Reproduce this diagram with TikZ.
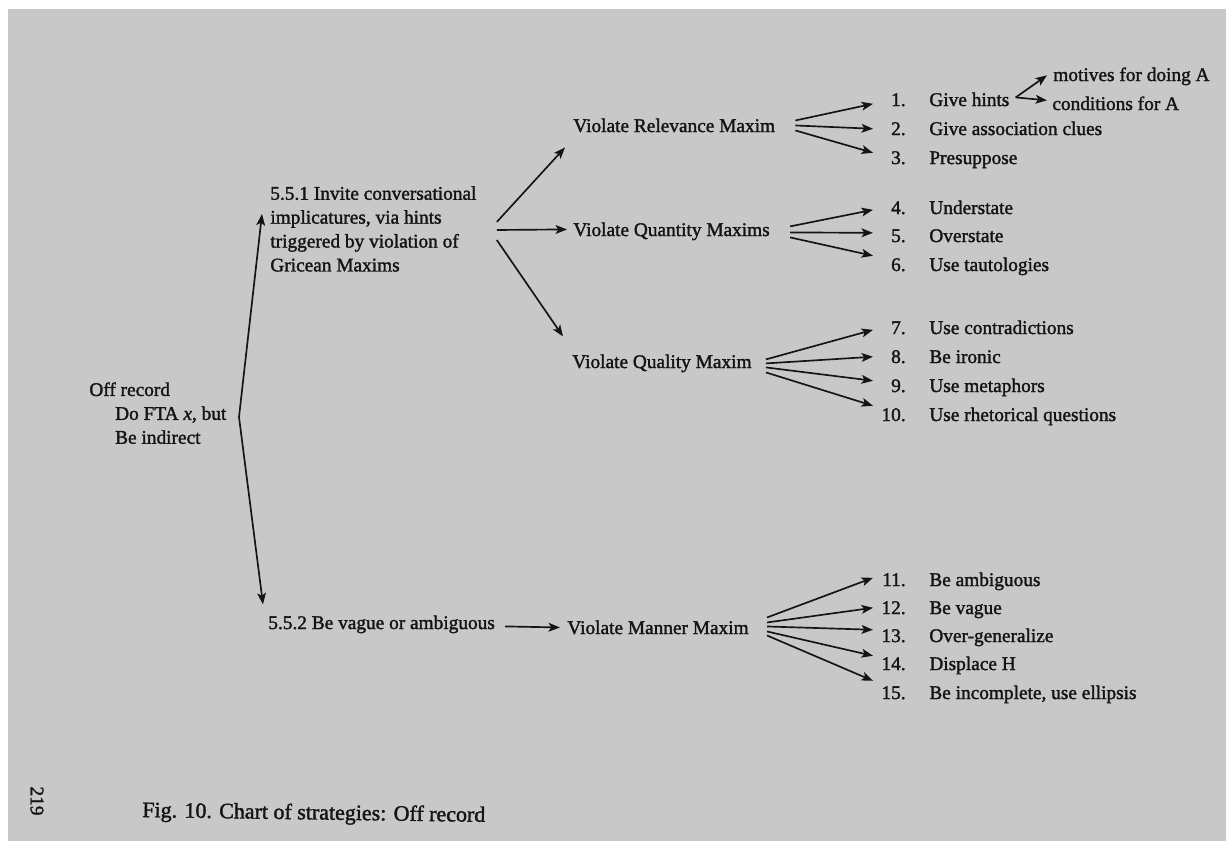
\documentclass[tikz,border=0pt]{standalone}
\usepackage{fontspec}
\setmainfont{Liberation Serif}
\newfontfamily\inkfont[FakeBold=1.6]{Liberation Serif}
\usetikzlibrary{arrows.meta}
\definecolor{paper}{RGB}{200,200,200}
\definecolor{ink}{RGB}{20,20,20}
\begin{document}
\begin{tikzpicture}[x=0.02cm,y=-0.02cm,
  lbl/.style={inner sep=0pt, anchor=mid west, text=ink, font=\fontsize{11}{13.6}\selectfont\inkfont},
  num/.style={inner sep=0pt, anchor=mid east, text=ink, font=\fontsize{11}{13.6}\selectfont\inkfont},
  arr/.style={draw=ink, line width=0.95pt, -{Stealth[length=6.5pt,width=5pt,inset=1.5pt]}},
]
\useasboundingbox (0,0) rectangle (1226,841);
\fill[white] (0,0) rectangle (1226,841);
\fill[paper] (8,9) rectangle (1226,841);

% root of the chart
\node[lbl, anchor=north west, align=left] (off) at (89,382)
  {Off record\\\hspace*{14.7pt}Do FTA \textit{x}, but\\\hspace*{14.7pt}Be indirect};
\coordinate (fork) at (239,417);

% the two super-strategies
\node[lbl, anchor=north west, align=left] (s551) at (270,186)
  {5.5.1 Invite conversational\\implicatures, via hints\\triggered by violation of\\Gricean Maxims};
\node[lbl] (s552) at (268,625) {5.5.2 Be vague or ambiguous};

\draw[arr] (fork) -- ([shift={(-8,28)}]s551.north west);
\draw[arr] (fork) -- ([shift={(-5,-20)}]s552.west);

% maxims
\node[lbl] (rel) at (573,128) {Violate Relevance Maxim};
\node[lbl] (qnt) at (573,232) {Violate Quantity Maxims};
\node[lbl] (qlt) at (572,364) {Violate Quality Maxim};
\node[lbl] (man) at (567,630) {Violate Manner Maxim};

\draw[arr] ([shift={(20,36)}]s551.north east) -- ([shift={(-8,22)}]rel.west);
\draw[arr] ([shift={(20,44)}]s551.north east) -- ([shift={(-6,-2)}]qnt.west);
\draw[arr] ([shift={(20,54)}]s551.north east) -- ([shift={(-9,-27)}]qlt.west);
\draw[arr] ([shift={(10,2)}]s552.east) -- ([xshift=-7*0.02cm]man.west);

% numbered strategies
\foreach \k/\y/\t in {1/102/{Give hints}, 2/131/{Give association clues}, 3/160/{Presuppose},
  4/210/{Understate}, 5/238/{Overstate}, 6/267/{Use tautologies},
  7/330/{Use contradictions}, 8/359/{Be ironic}, 9/388/{Use metaphors}, 10/417/{Use rhetorical questions},
  11/582/{Be ambiguous}, 12/610/{Be vague}, 13/638/{Over-generalize}, 14/666/{Displace H},
  15/695/{Be incomplete, use ellipsis}}{
  \node[num] (n\k) at (906,\y) {\k.};
  \node[lbl] (t\k) at (929,\y) {\t};
}

% fans of arrows from each maxim
\foreach \k/\sy/\dy in {1/-5/4, 2/0/0, 3/5/-5}
  \draw[arr] ([shift={(20,\sy)}]rel.east) -- ([shift={(-33,\dy)}]n\k.east);
\foreach \k/\sy/\dy in {4/-5/2, 5/1/-3, 6/6/-9}
  \draw[arr] ([shift={(20,\sy)}]qnt.east) -- ([shift={(-33,\dy)}]n\k.east);
\foreach \k/\sy/\dy in {7/-4/2, 8/0/0, 9/4/-5, 10/9/-9}
  \draw[arr] ([shift={(14,\sy)}]qlt.east) -- ([shift={(-33,\dy)}]n\k.east);
\foreach \k/\sy/\dy in {11/-10/-2, 12/-5/0, 13/-1/-6, 14/4/-8, 15/8/-12}
  \draw[arr] ([shift={(18,\sy)}]man.east) -- ([shift={(-33,\dy)}]n\k.east);

% sub-hints of strategy 1
\node[lbl] (mot) at (1053,77) {motives for doing A};
\node[lbl] (cond) at (1052,106) {conditions for A};
\coordinate (hint) at ([shift={(6,-2)}]t1.east);
\draw[arr] (hint) -- ([shift={(-6,-1)}]mot.west);
\draw[arr] (hint) -- ([shift={(-5,-3)}]cond.west);

% page number and caption
\node[lbl, anchor=center, rotate=-90] (page) at (37,801) {219};
\node[lbl, rotate=-0.8, font=\fontsize{12.5}{15}\selectfont\inkfont] (cap) at (142,813) {Fig. 10. Chart of strategies: Off record};
\end{tikzpicture}
\end{document}
